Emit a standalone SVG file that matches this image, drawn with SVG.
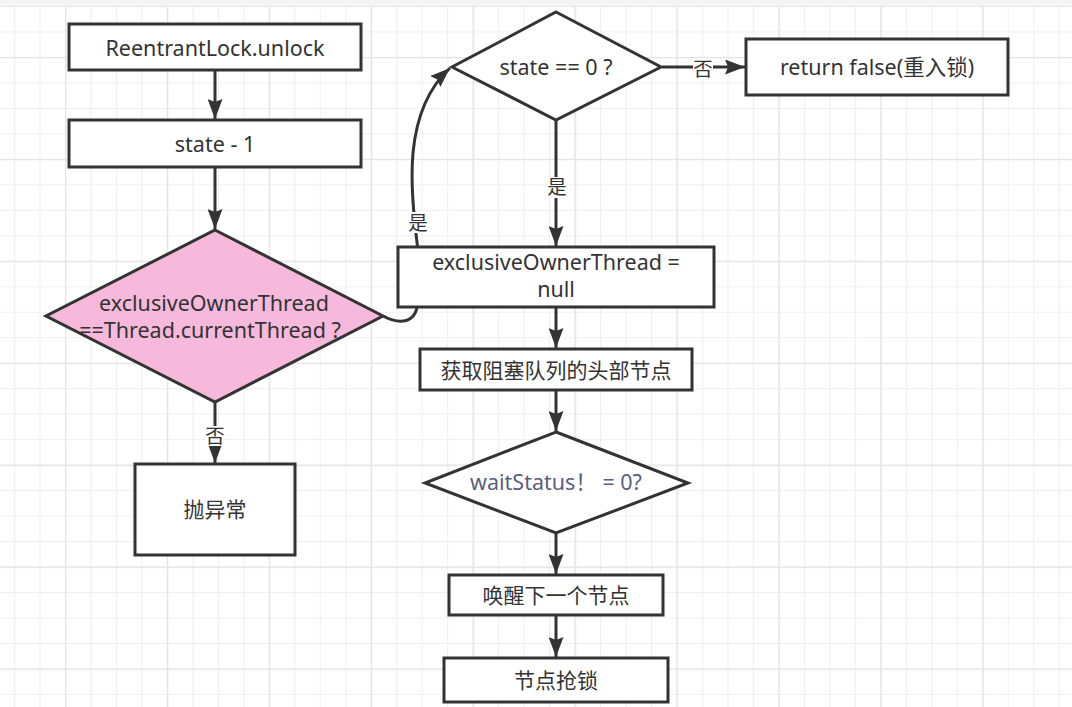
<svg xmlns="http://www.w3.org/2000/svg" width="1072" height="707" viewBox="0 0 1072 707">
<defs>
<pattern id="minor" patternUnits="userSpaceOnUse" x="14" y="6" width="25.48" height="25.48">
<path d="M0.5,0 V25.48 M0,0.5 H25.48" fill="none" stroke="#efefef" stroke-width="1.2"/>
</pattern>
<pattern id="major" patternUnits="userSpaceOnUse" x="65" y="57" width="101.92" height="101.92">
<path d="M0.5,0 V101.92 M0,0.5 H101.92" fill="none" stroke="#e3e3e3" stroke-width="1.5"/>
</pattern>
<marker id="arr" markerUnits="userSpaceOnUse" markerWidth="20" markerHeight="15" refX="20" refY="7.5" orient="auto">
<path d="M0,0 L20,7.5 L0,15 L3,7.5 z" fill="#333"/>
</marker>
<style>
.box{fill:#fff;stroke:#333;stroke-width:3}
.dia{fill:#fff;stroke:#333;stroke-width:3;stroke-linejoin:miter}
.pink{fill:#f6b9dc}
.t{font-family:"Noto Sans","Noto Sans CJK SC",sans-serif;font-size:21.5px;fill:#333;text-anchor:middle}
.cjk{font-size:21px}
.lbl{font-family:"Noto Sans CJK SC","Noto Sans",sans-serif;font-size:19.5px;fill:#333;text-anchor:middle}
.edge{fill:none;stroke:#333;stroke-width:3}
.bg{fill:#fff}
</style>
</defs>
<rect width="1072" height="707" fill="#fff"/>
<rect width="1072" height="707" fill="url(#minor)"/>
<rect width="1072" height="707" fill="url(#major)"/>
<rect width="1072" height="6" fill="#f4f4f4"/>
<line x1="0" y1="6.5" x2="1072" y2="6.5" stroke="#e4e4e4" stroke-width="1"/>

<g id="connectors">
<line class="edge" x1="215" y1="71" x2="215" y2="119" marker-end="url(#arr)"/>
<line class="edge" x1="215" y1="167" x2="215" y2="229" marker-end="url(#arr)"/>
<line class="edge" x1="215" y1="402" x2="215" y2="463" marker-end="url(#arr)"/>
<path class="edge" d="M383,316 C398,324 418,326 418,298 L418,250 C410,190 402,112 450,68" marker-end="url(#arr)"/>
<line class="edge" x1="662" y1="67" x2="745" y2="67" marker-end="url(#arr)"/>
<line class="edge" x1="556" y1="120" x2="556" y2="246" marker-end="url(#arr)"/>
<line class="edge" x1="556" y1="307" x2="556" y2="348" marker-end="url(#arr)"/>
<line class="edge" x1="556" y1="390" x2="556" y2="431" marker-end="url(#arr)"/>
<line class="edge" x1="556" y1="533" x2="556" y2="574" marker-end="url(#arr)"/>
<line class="edge" x1="556" y1="615" x2="556" y2="657" marker-end="url(#arr)"/>
<rect class="bg" x="206" y="426" width="18" height="20"/>
<text class="lbl" x="215" y="443">否</text>
<rect class="bg" x="409" y="212" width="19" height="21"/>
<text class="lbl" x="418" y="230">是</text>
<rect class="bg" x="547" y="177" width="19" height="21"/>
<text class="lbl" x="557" y="194">是</text>
<rect class="bg" x="693" y="58" width="20" height="21"/>
<text class="lbl" x="703" y="76">否</text>
</g>

<g id="n-unlock">
<rect class="box" x="69" y="24" width="292" height="46"/>
<text class="t" x="215" y="56">ReentrantLock.unlock</text>
</g>
<g id="n-state-minus">
<rect class="box" x="69" y="120" width="292" height="47"/>
<text class="t" x="215" y="152">state - 1</text>
</g>
<g id="n-owner-check">
<polygon class="dia pink" points="215,230 383,316 215,402 46,316"/>
<text class="t"><tspan x="214" y="311">exclusiveOwnerThread</tspan><tspan x="210" y="338">==Thread.currentThread ?</tspan></text>
</g>
<g id="n-throw">
<rect class="box" x="135" y="464" width="160" height="91"/>
<text class="t cjk" x="215" y="517">抛异常</text>
</g>
<g id="n-state-zero">
<polygon class="dia" points="556,12 661,67 556,120 452,67"/>
<text class="t" x="556" y="75">state == 0 ?</text>
</g>
<g id="n-return-false">
<rect class="box" x="746" y="39" width="262" height="56"/>
<text class="t" x="877" y="75">return false(重入锁)</text>
</g>
<g id="n-owner-null">
<rect class="box" x="398" y="247" width="316" height="60"/>
<text class="t"><tspan x="556" y="270">exclusiveOwnerThread =</tspan><tspan x="556" y="297">null</tspan></text>
</g>
<g id="n-head">
<rect class="box" x="420" y="349" width="272" height="41"/>
<text class="t cjk" x="556" y="378">获取阻塞队列的头部节点</text>
</g>
<g id="n-wait-status">
<polygon class="dia" points="556,432 688,483 556,533 425,483"/>
<text class="t" x="556" y="490" style="fill:#5a5e80">waitStatus！ = 0?</text>
</g>
<g id="n-wake">
<rect class="box" x="449" y="575" width="214" height="40"/>
<text class="t cjk" x="556" y="603">唤醒下一个节点</text>
</g>
<g id="n-grab">
<rect class="box" x="444" y="658" width="224" height="44"/>
<text class="t cjk" x="556" y="688">节点抢锁</text>
</g>
</svg>
